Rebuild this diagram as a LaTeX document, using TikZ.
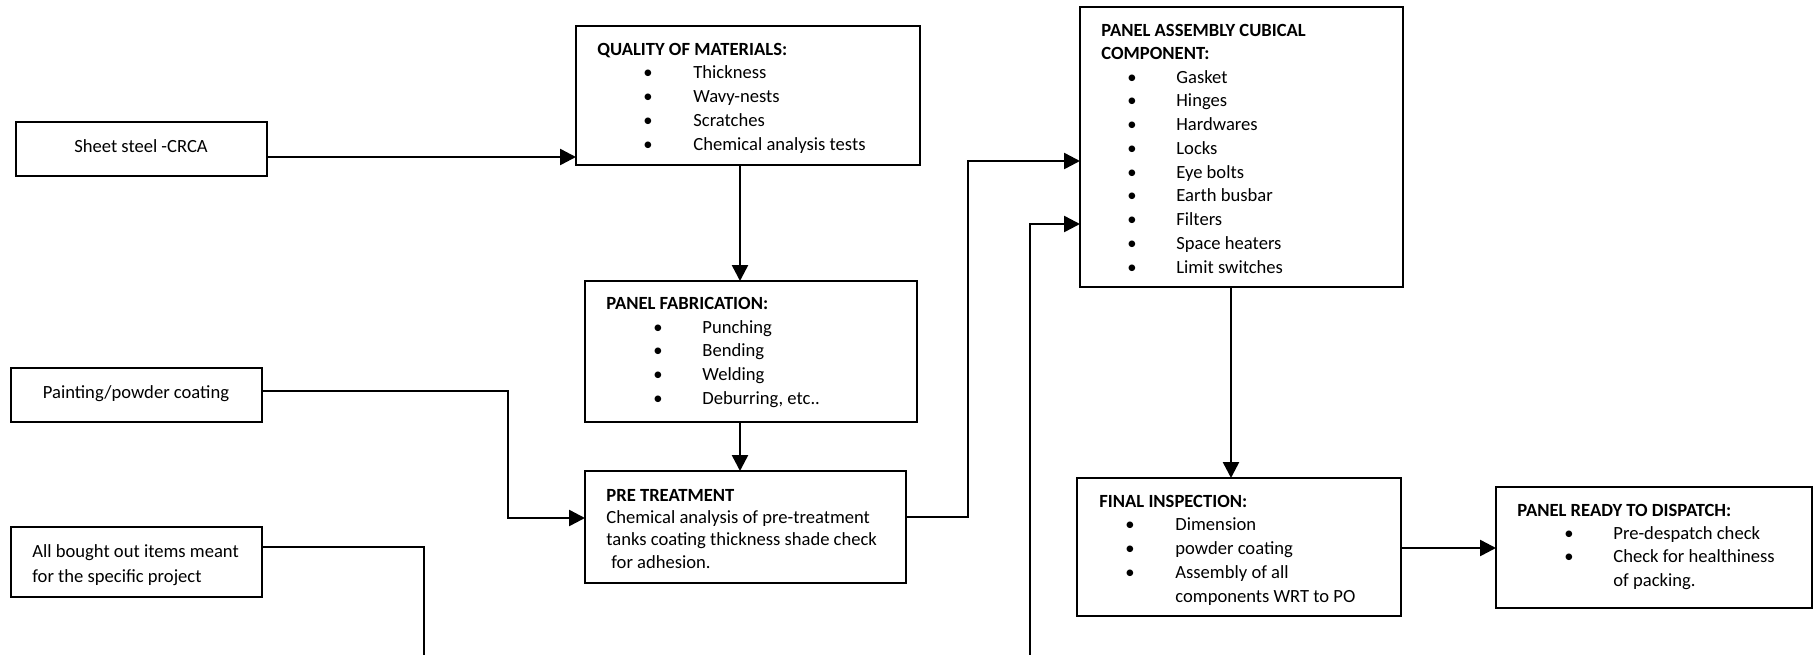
\documentclass[tikz,border=0pt]{standalone}
\usepackage{fontspec}
\setmainfont{Carlito}
\usetikzlibrary{arrows.meta,fit}
\tikzset{
  box/.style={draw, line width=1.1pt, inner sep=0pt, outer sep=0pt},
  lbl/.style={inner sep=0pt, anchor=base west, font=\fontsize{9.3}{11}\selectfont},
  ttl/.style={inner sep=0pt, anchor=base west, font=\fontsize{9.3}{11}\selectfont\bfseries},
  ctr/.style={inner sep=0pt, anchor=base, font=\fontsize{9.3}{11}\selectfont},
  bul/.style={inner sep=0pt, anchor=base, font=\fontsize{9.3}{11}\selectfont},
  arr/.style={line width=1.25pt, -{Triangle[length=8pt,width=8pt]}},
}
\begin{document}
\begin{tikzpicture}[x=0.5pt,y=-0.5pt]
\useasboundingbox (0,0) rectangle (1816,654);
\clip (0,0) rectangle (1816,654);

% boxes
\node[box, fit={(16,122) (267,176)}] (sheet) {};
\node[box, fit={(11,368) (262,422)}] (paint) {};
\node[box, fit={(11,527) (262,597)}] (bought) {};
\node[box, fit={(576,26) (920,165)}] (qm) {};
\node[box, fit={(585,281) (917,422)}] (pf) {};
\node[box, fit={(585,471) (906,583)}] (pt) {};
\node[box, fit={(1080,7) (1403,287)}] (asm) {};
\node[box, fit={(1077,478) (1401,616)}] (fi) {};
\node[box, fit={(1496,487) (1812,608)}] (disp) {};

% simple texts
\node[ctr] (sheett) at (141,152) {Sheet steel -CRCA};
\node[ctr] (paintt) at (136,398) {Painting/powder coating};
\node[lbl] (bought1) at (32,557) {All bought out items meant};
\node[lbl] (bought2) at (32,582) {for the specific project};

% quality of materials
\node[ttl] (qmh) at (597,55) {QUALITY OF MATERIALS:};
\foreach \t [count=\i] in {Thickness,Wavy-nests,Scratches,Chemical analysis tests}{
  \node[bul] (qmb\i) at (648,{78+24*(\i-1)}) {\textbullet};
  \node[lbl] (qmt\i) at (693,{78+24*(\i-1)}) {\t};
}

% panel fabrication
\node[ttl] (pfh) at (606,309) {PANEL FABRICATION:};
\foreach \t [count=\i] in {Punching,Bending,Welding,{Deburring, etc..}}{
  \node[bul] (pfb\i) at (658,{333+23.7*(\i-1)}) {\textbullet};
  \node[lbl] (pft\i) at (702,{333+23.7*(\i-1)}) {\t};
}

% pre treatment
\node[ttl] (pth) at (606,501) {PRE TREATMENT};
\node[lbl] (pt1) at (606,523) {Chemical analysis of pre-treatment};
\node[lbl] (pt2) at (606,545) {tanks coating thickness shade check};
\node[lbl] (pt3) at (611,568) {for adhesion.};

% panel assembly
\node[ttl] (asmh1) at (1101,36) {PANEL ASSEMBLY CUBICAL};
\node[ttl] (asmh2) at (1101,59) {COMPONENT:};
\foreach \t [count=\i] in {Gasket,Hinges,Hardwares,Locks,Eye bolts,Earth busbar,Filters,Space heaters,Limit switches}{
  \node[bul] (asmb\i) at (1132,{83+23.75*(\i-1)}) {\textbullet};
  \node[lbl] (asmt\i) at (1176,{83+23.75*(\i-1)}) {\t};
}

% final inspection
\node[ttl] (fih) at (1099,507) {FINAL INSPECTION:};
\foreach \t [count=\i] in {Dimension,powder coating,Assembly of all}{
  \node[bul] (fib\i) at (1130,{530+24*(\i-1)}) {\textbullet};
  \node[lbl] (fit\i) at (1175,{530+24*(\i-1)}) {\t};
}
\node[lbl] (fit4) at (1175,602) {components WRT to PO};

% dispatch
\node[ttl] (disph) at (1517,516) {PANEL READY TO DISPATCH:};
\foreach \t [count=\i] in {Pre-despatch check,Check for healthiness}{
  \node[bul] (dispb\i) at (1569,{539+23.5*(\i-1)}) {\textbullet};
  \node[lbl] (dispt\i) at (1613,{539+23.5*(\i-1)}) {\t};
}
\node[lbl] (dispt3) at (1613,586) {of packing.};

% connectors
\draw[arr] (sheet.east |- 0,157) -- (qm.west |- 0,157);
\draw[arr] (qm.south -| 740,0) -- (pf.north -| 740,0);
\draw[arr] (pf.south -| 740,0) -- (pt.north -| 740,0);
\draw[arr] (paint.east |- 0,391) -| (508,518) -- (pt.west |- 0,518);
\draw[arr] (pt.east |- 0,517) -| (968,161) -- (asm.west |- 0,161);
\draw[arr] (bought.east |- 0,547) -| (424,700) -| (1030,224) -- (asm.west |- 0,224);
\draw[arr] (asm.south -| 1231,0) -- (fi.north -| 1231,0);
\draw[arr] (fi.east |- 0,548) -- (disp.west |- 0,548);
\end{tikzpicture}
\end{document}
